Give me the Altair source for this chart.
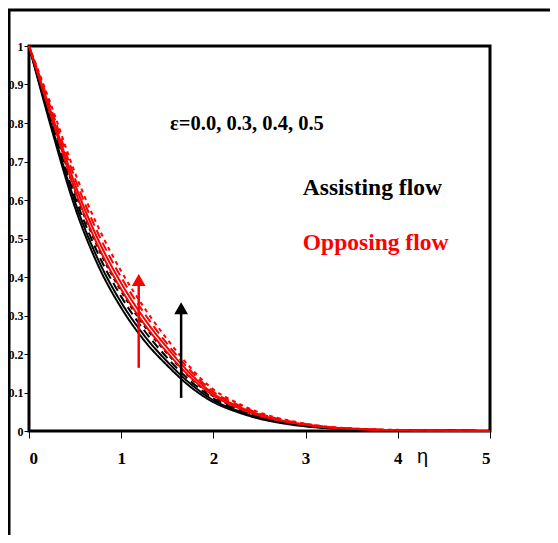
import altair as alt
import pandas as pd

eta = [0, 0.25, 0.5, 0.75, 1.0, 1.25, 1.5, 1.75, 2.0, 2.25, 2.5, 2.75, 3.0, 3.25, 3.5, 4.0, 4.5, 5.0]

# Assisting flow (black), eps = 0.0, 0.3, 0.4, 0.5
a_00 = [1, 0.780, 0.580, 0.430, 0.320, 0.235, 0.170, 0.115, 0.075, 0.050, 0.032, 0.020, 0.012, 0.007, 0.004, 0.0015, 0.0005, 0]
a_03 = [1, 0.789, 0.594, 0.445, 0.334, 0.248, 0.180, 0.123, 0.080, 0.054, 0.034, 0.022, 0.013, 0.008, 0.004, 0.002, 0.001, 0]
a_04 = [1, 0.798, 0.607, 0.460, 0.349, 0.261, 0.190, 0.130, 0.085, 0.057, 0.037, 0.023, 0.014, 0.008, 0.005, 0.002, 0.001, 0]
a_05 = [1, 0.807, 0.621, 0.475, 0.363, 0.273, 0.201, 0.138, 0.090, 0.061, 0.039, 0.025, 0.015, 0.009, 0.005, 0.002, 0.001, 0]
# Opposing flow (red), eps = 0.0, 0.3, 0.4, 0.5
o_00 = [1, 0.810, 0.625, 0.480, 0.368, 0.278, 0.204, 0.140, 0.092, 0.062, 0.040, 0.026, 0.016, 0.009, 0.006, 0.002, 0.001, 0]
o_03 = [1, 0.820, 0.640, 0.497, 0.384, 0.292, 0.216, 0.149, 0.097, 0.066, 0.043, 0.027, 0.017, 0.010, 0.006, 0.002, 0.001, 0]
o_04 = [1, 0.830, 0.655, 0.513, 0.399, 0.306, 0.226, 0.157, 0.102, 0.070, 0.045, 0.029, 0.018, 0.010, 0.006, 0.002, 0.001, 0]
o_05 = [1, 0.840, 0.670, 0.530, 0.415, 0.320, 0.238, 0.165, 0.108, 0.074, 0.048, 0.031, 0.019, 0.011, 0.007, 0.003, 0.001, 0]

series_names = ["A0.0", "A0.3", "A0.4", "A0.5", "O0.0", "O0.3", "O0.4", "O0.5"]
series_vals = [a_00, a_03, a_04, a_05, o_00, o_03, o_04, o_05]
series_colors = ["black", "black", "black", "black", "#ff0000", "#ff0000", "#ff0000", "#ff0000"]
series_dash = [[1, 0], [1, 0], [9, 5], [4, 4], [1, 0], [1, 0], [9, 5], [4, 4]]

# arrows: x, y start, y end (head centre)
arrow_x = [1.19, 1.65]
arrow_y0 = [0.164, 0.086]
arrow_y1 = [0.392, 0.319]
arrow_color = ["#ff0000", "black"]

texts = ["ε=0.0, 0.3, 0.4, 0.5", "Assisting flow", "Opposing flow"]
text_x = [1.53, 2.97, 2.97]
text_y = [0.782, 0.613, 0.470]
text_color = ["black", "black", "#ff0000"]
text_size = [20.5, 23.5, 23.5]

x_ticks = [0, 1, 2, 3, 4, 5]
y_ticks = [0, 0.1, 0.2, 0.3, 0.4, 0.5, 0.6, 0.7, 0.8, 0.9, 1.0]

rows = []
for name, vals in zip(series_names, series_vals):
    for e, v in zip(eta, vals):
        rows.append({"eta": e, "f": v, "series": name})
df = pd.DataFrame(rows)

xs = alt.Scale(domain=[0, 5], nice=False, zero=False)
ys = alt.Scale(domain=[0, 1], nice=False)

xaxis = alt.Axis(
    values=x_ticks, format="d", title="η", titleX=393, titleY=15, titleAlign="center",
    titleBaseline="top", titleFont="Liberation Sans", titleFontSize=20,
    titleFontWeight="normal", titleColor="black",
    labelFont="Liberation Serif", labelFontWeight="bold", labelFontSize=17,
    labelColor="black", labelPadding=12, tickSize=7, tickColor="black",
    labelOverlap=False, domain=False, grid=False)
yaxis = alt.Axis(
    values=y_ticks, title=None,
    labelExpr="datum.value == 1 ? '1' : (datum.value == 0 ? '0' : format(datum.value, '.1f'))",
    labelFont="Liberation Serif", labelFontWeight="bold", labelFontSize=12,
    labelColor="black", labelPadding=1, tickSize=5, tickColor="black",
    labelOverlap=False, domain=False, grid=False)

lines = alt.Chart(df).mark_line(strokeWidth=2, interpolate="monotone").encode(
    x=alt.X("eta:Q", scale=xs, axis=xaxis),
    y=alt.Y("f:Q", scale=ys, axis=yaxis),
    color=alt.Color("series:N", scale=alt.Scale(domain=series_names, range=series_colors), legend=None),
    strokeDash=alt.StrokeDash("series:N", scale=alt.Scale(domain=series_names, range=series_dash), legend=None),
)

arr_df = pd.DataFrame({"x": arrow_x, "y0": arrow_y0, "y1": arrow_y1, "c": arrow_color})
arrow_lines = alt.Chart(arr_df).mark_rule(strokeWidth=2.5).encode(
    x=alt.X("x:Q", scale=xs, axis=xaxis), y=alt.Y("y0:Q", scale=ys, axis=yaxis), y2="y1:Q",
    color=alt.Color("c:N", scale=None),
)
arrow_heads = alt.Chart(arr_df).mark_point(shape="triangle-up", filled=True, size=190, opacity=1).encode(
    x=alt.X("x:Q", scale=xs, axis=xaxis), y=alt.Y("y1:Q", scale=ys, axis=yaxis),
    color=alt.Color("c:N", scale=None),
)

txt_df = pd.DataFrame({"t": texts, "x": text_x, "y": text_y, "c": text_color, "s": text_size})
labels = alt.Chart(txt_df).mark_text(
    font="Liberation Serif", fontWeight="bold", align="left", baseline="alphabetic"
).encode(
    x=alt.X("x:Q", scale=xs, axis=xaxis), y=alt.Y("y:Q", scale=ys, axis=yaxis), text="t:N",
    color=alt.Color("c:N", scale=None), size=alt.Size("s:Q", scale=None),
)

one = pd.DataFrame({"k": [0]})
frame_left = alt.Chart(one).mark_rule(color="black", strokeWidth=3).encode(
    x=alt.value(-20), y=alt.value(-37), y2=alt.value(495))
frame_top = alt.Chart(one).mark_rule(color="black", strokeWidth=3).encode(
    x=alt.value(-21), x2=alt.value(530), y=alt.value(-36))

chart = alt.layer(lines, arrow_lines, arrow_heads, labels, frame_left, frame_top).properties(
    width=461, height=385,
    padding={"left": 21, "top": 38, "right": 60, "bottom": 104},
    autosize=alt.AutoSizeParams(type="none"),
    background="white",
).configure_view(stroke="black", strokeWidth=3)

chart.save("out.html", embed_options={"renderer": "svg", "actions": False})
